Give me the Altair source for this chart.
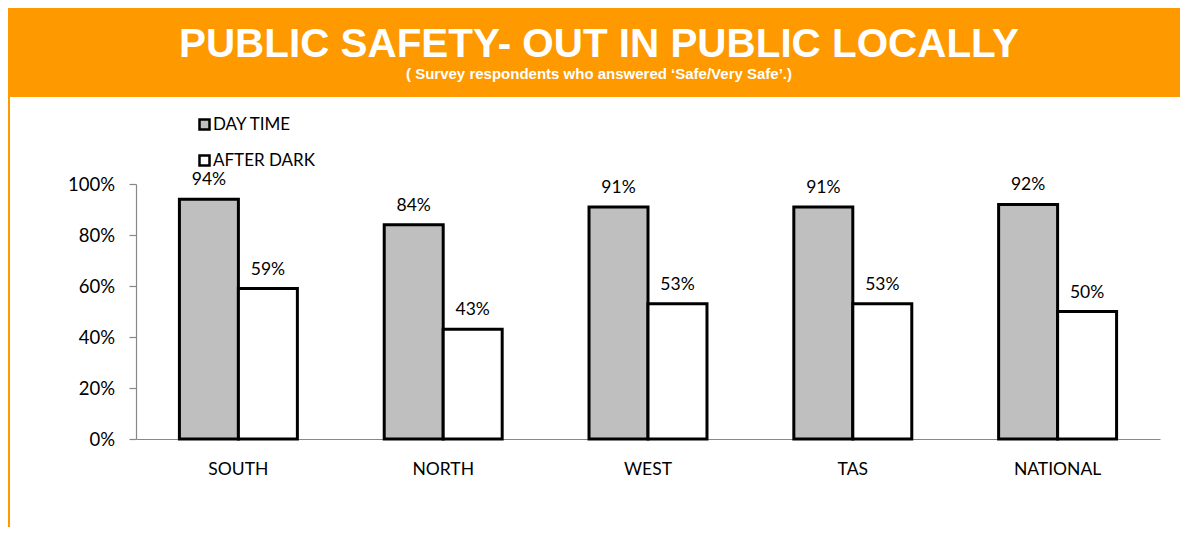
import altair as alt
import pandas as pd

categories = ["SOUTH", "NORTH", "WEST", "TAS", "NATIONAL"]
day_time = [94, 84, 91, 91, 92]
after_dark = [59, 43, 53, 53, 50]
series_names = ["DAY TIME", "AFTER DARK"]
series_colors = ["#BFBFBF", "#FFFFFF"]
title_text = "PUBLIC SAFETY- OUT IN PUBLIC LOCALLY"
subtitle_text = "( Survey respondents who answered \u2018Safe/Very Safe\u2019.)"

rows = []
for i, c in enumerate(categories):
    rows.append({"region": c, "series": series_names[0], "value": day_time[i]})
    rows.append({"region": c, "series": series_names[1], "value": after_dark[i]})
df = pd.DataFrame(rows)

W, H = 1024, 255
PL, PT, PR, PB = 128, 176, 20, 88
ORANGE = "#FF9900"
BODY_FONT = "Lato"

x_enc = alt.X("region:N", sort=categories, title=None,
              scale=alt.Scale(paddingInner=0.424, paddingOuter=0.212),
              axis=alt.Axis(labelAngle=0, ticks=False, domainColor="#888888", domainWidth=1.2,
                            labelFont=BODY_FONT, labelFontSize=17.5, labelColor="#000000",
                            labelPadding=21))
y_enc = alt.Y("value:Q", title=None,
              scale=alt.Scale(domain=[0, 100]),
              axis=alt.Axis(values=[0, 20, 40, 60, 80, 100], labelExpr="datum.value + '%'",
                            grid=False, domainColor="#888888", domainWidth=1.2,
                            tickColor="#888888", tickSize=7, tickWidth=1.2,
                            labelFont=BODY_FONT, labelFontSize=18.5, labelColor="#000000",
                            labelPadding=14.5))

base = alt.Chart(df)

bars = base.mark_bar(stroke="#000000", strokeWidth=3).encode(
    x=x_enc,
    xOffset=alt.XOffset("series:N", sort=series_names),
    y=y_enc,
    fill=alt.Fill("series:N", sort=series_names,
                  scale=alt.Scale(domain=series_names, range=series_colors),
                  legend=alt.Legend(title=None, orient="none", legendX=60, legendY=-68,
                                    symbolType="square", symbolSize=100,
                                    symbolStrokeColor="#000000", symbolStrokeWidth=2.5,
                                    labelFont=BODY_FONT, labelFontSize=17, labelColor="#000000",
                                    rowPadding=15, labelOffset=0)),
)

labels = base.mark_text(font=BODY_FONT, fontSize=17.5, color="#000000",
                        baseline="alphabetic", dy=-14).transform_calculate(
    label="datum.value + '%'"
).encode(
    x=alt.X("region:N", sort=categories),
    xOffset=alt.XOffset("series:N", sort=series_names),
    y=alt.Y("value:Q"),
    text="label:N",
)

one = pd.DataFrame({"k": [0]})
band = alt.Chart(one).mark_rect(color=ORANGE).encode(
    x=alt.value(-PL), x2=alt.value(W + PR), y=alt.value(-PT), y2=alt.value(-87)
)
side_line = alt.Chart(one).mark_rect(color=ORANGE).encode(
    x=alt.value(-PL), x2=alt.value(-PL + 2), y=alt.value(-87), y2=alt.value(H + PB)
)
title = alt.Chart(one).mark_text(text=title_text, font="Liberation Sans", fontWeight="bold",
                                 fontSize=40.4, color="#FFFFFF", baseline="alphabetic").encode(
    x=alt.value(463), y=alt.value(-127)
)
subtitle = alt.Chart(one).mark_text(text=subtitle_text, font="Liberation Sans", fontWeight="bold",
                                    fontSize=15, color="#FFFFFF", baseline="alphabetic").encode(
    x=alt.value(463), y=alt.value(-105)
)

chart = alt.layer(band, side_line, title, subtitle, bars, labels).properties(
    width=W, height=H,
    autosize=alt.AutoSizeParams(type="none"),
    padding={"left": PL, "top": PT, "right": PR, "bottom": PB},
).configure_view(stroke=None)

chart.save("out.html", embed_options={"renderer": "svg", "actions": False})
